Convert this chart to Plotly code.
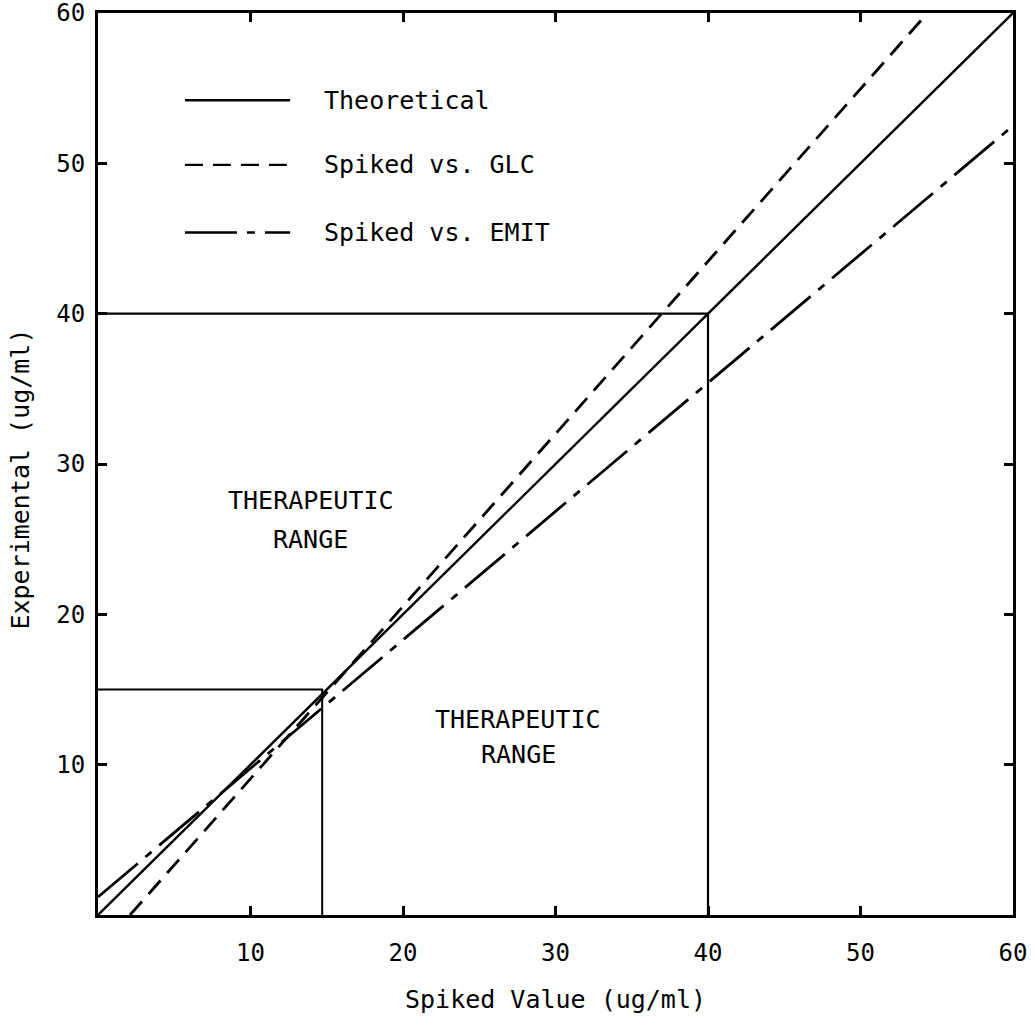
import plotly.graph_objects as go

# Calibration lines: (spiked value, experimental value) end points
theoretical_x = [0, 60]
theoretical_y = [0, 60]
glc_x = [2.1, 54.4]
glc_y = [0, 60]
emit_x = [0, 60]
emit_y = [1.2, 52.5]

# Therapeutic range boxes (corner at the range limits)
low_range_x = [0, 14.7, 14.7]
low_range_y = [15, 15, 0]
high_range_x = [0, 40, 40]
high_range_y = [40, 40, 0]

tick_values = [10, 20, 30, 40, 50, 60]
tick_labels = ["10", "20", "30", "40", "50", "60"]

legend_labels = ["Theoretical", "Spiked vs. GLC", "Spiked vs. EMIT"]
range_label = ["THERAPEUTIC", "RANGE"]

FONT = "DejaVu Sans Mono"
INK = "black"
solid = "solid"
glc_dash = "18px,10px"
emit_dash = "52px,10px,8px,10px"

fig = go.Figure()

def add_line(x, y, dash, width):
    fig.add_trace(go.Scatter(x=x, y=y, mode="lines",
                             line=dict(color=INK, width=width, dash=dash),
                             hoverinfo="skip", showlegend=False))

add_line(high_range_x, high_range_y, solid, 2.2)
add_line(low_range_x, low_range_y, solid, 2.0)
add_line(theoretical_x, theoretical_y, solid, 2.4)
add_line(glc_x, glc_y, glc_dash, 2.8)
add_line(emit_x, emit_y, emit_dash, 2.8)

# Hand-drawn key in the upper-left corner
key_rows = [(54.2, solid), (49.9, glc_dash), (45.4, emit_dash)]
for (yk, dash), label in zip(key_rows, legend_labels):
    fig.add_shape(type="line", x0=5.7, x1=12.6, y0=yk, y1=yk,
                  line=dict(color=INK, width=2.4, dash=dash))
    fig.add_annotation(x=14.7, y=yk, text=label, showarrow=False,
                       xanchor="left", yanchor="middle",
                       font=dict(family=FONT, size=25, color=INK))

# Therapeutic range captions
for xc, ys in [(13.95, (27.6, 25.0)), (27.55, (13.0, 10.7))]:
    for txt, yc in zip(range_label, ys):
        fig.add_annotation(x=xc, y=yc, text=txt, showarrow=False,
                           xanchor="center", yanchor="middle",
                           font=dict(family=FONT, size=25, color=INK))

# Axis titles
fig.add_annotation(xref="paper", yref="paper", x=0.5, y=-0.094,
                   text="Spiked Value (ug/ml)", showarrow=False,
                   xanchor="center", yanchor="middle",
                   font=dict(family=FONT, size=25, color=INK))
fig.add_annotation(xref="paper", yref="paper", x=-0.085, y=0.483,
                   text="Experimental (ug/ml)", showarrow=False, textangle=-90,
                   xanchor="center", yanchor="middle",
                   font=dict(family=FONT, size=25, color=INK))

axis_common = dict(
    range=[0, 60], tickvals=tick_values, ticktext=tick_labels,
    showgrid=False, zeroline=False, automargin=False,
    ticklabeloverflow="allow",
    showline=True, linecolor=INK, linewidth=3, mirror="ticks",
    ticks="inside", ticklen=9, tickwidth=3, tickcolor=INK,
    tickfont=dict(family=FONT, size=24, color=INK),
    fixedrange=True,
)

fig.update_xaxes(**axis_common, ticklabelstandoff=14)
fig.update_yaxes(**axis_common, ticklabelstandoff=5)

fig.update_layout(
    width=1034, height=1031,
    margin=dict(l=98, r=21, t=13, b=116),
    paper_bgcolor="white", plot_bgcolor="white",
    showlegend=False,
)

fig.write_html("out.html")
